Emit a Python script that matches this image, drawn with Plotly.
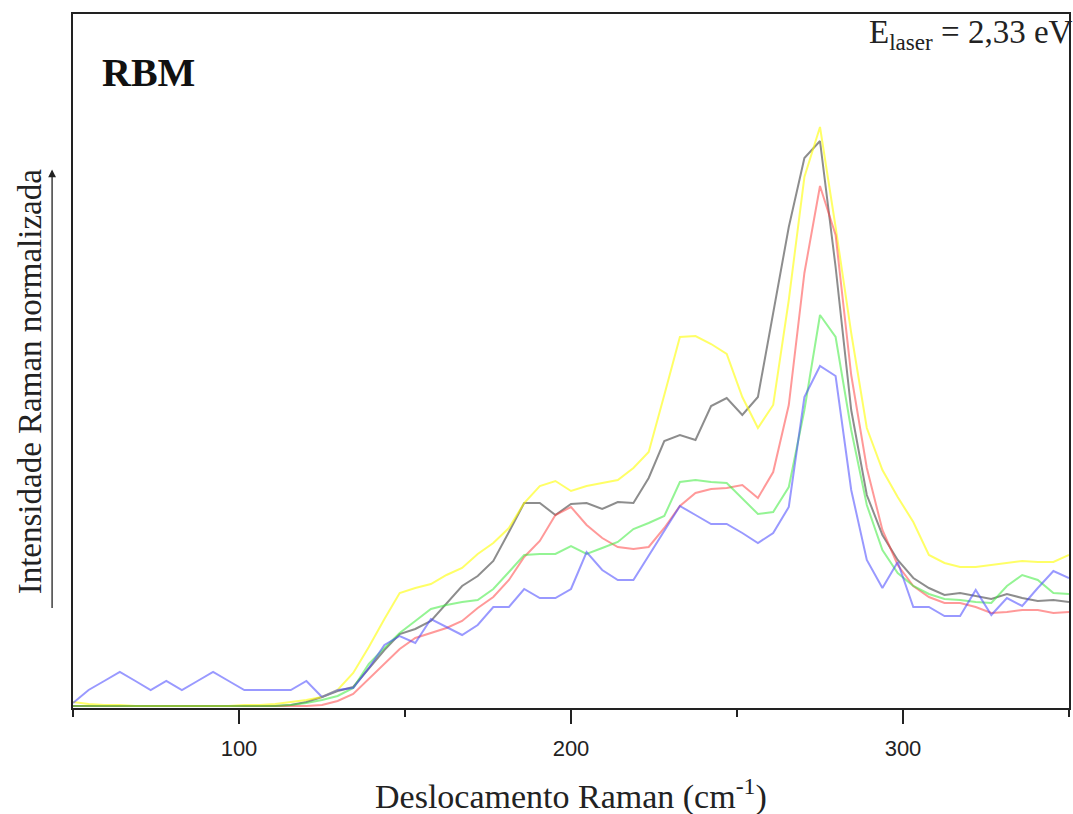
import plotly.graph_objects as go

# Raman shift (cm^-1)
shift = [50.0, 54.7, 59.4, 64.1, 68.8, 73.4, 78.1, 82.8, 87.5, 92.2,
         96.9, 101.6, 106.3, 110.9, 115.6, 120.3, 125.0, 129.7, 134.4, 139.1,
         143.8, 148.4, 153.1, 157.8, 162.5, 167.2, 171.9, 176.6, 181.3, 185.9,
         190.6, 195.3, 200.0, 204.7, 209.4, 214.1, 218.8, 223.4, 228.1, 232.8,
         237.5, 242.2, 246.9, 251.6, 256.3, 260.9, 265.6, 270.3, 275.0, 279.7,
         284.4, 289.1, 293.8, 298.4, 303.1, 307.8, 312.5, 317.2, 321.9, 326.6,
         331.3, 335.9, 340.6, 345.3, 350.0]

# normalized Raman intensity (arbitrary units)
gray = [2, 2, 2, 2, 2, 2, 2, 2, 2, 2,
        2, 2, 2, 2, 3, 6, 11, 17, 21, 40,
        58, 74, 79, 87, 105, 122, 132, 147, 176, 205,
        205, 193, 204, 205, 199, 206, 205, 230, 267, 273,
        268, 302, 310, 293, 311, 396, 481, 550, 567, 441,
        298, 213, 173, 148, 130, 120, 113, 115, 112, 109,
        114, 110, 107, 108, 106]
yellow = [6, 4, 3, 3, 2, 2, 2, 2, 2, 2,
          2, 3, 3, 4, 6, 8, 11, 18, 35, 61,
          89, 115, 120, 124, 133, 140, 154, 165, 180, 205,
          222, 227, 217, 222, 225, 228, 240, 256, 313, 371,
          372, 364, 354, 311, 280, 303, 408, 531, 581, 481,
          375, 280, 238, 211, 186, 153, 145, 141, 141, 143,
          145, 147, 146, 146, 153]
red = [2, 2, 2, 2, 2, 2, 2, 2, 2, 2,
       2, 2, 2, 2, 2, 2, 3, 7, 14, 29,
       44, 59, 70, 75, 80, 87, 100, 111, 128, 151,
       167, 193, 201, 183, 170, 161, 159, 161, 180, 202,
       215, 219, 220, 223, 210, 236, 303, 435, 522, 473,
       333, 240, 178, 143, 122, 111, 105, 105, 101, 95,
       96, 98, 98, 95, 96]
green = [2, 2, 2, 2, 2, 2, 2, 2, 2, 2,
         2, 2, 2, 2, 3, 5, 8, 12, 20, 44,
         60, 75, 87, 99, 103, 106, 108, 119, 136, 153,
         154, 154, 162, 154, 160, 166, 179, 185, 192, 226,
         228, 226, 225, 209, 194, 196, 221, 298, 393, 371,
         278, 203, 158, 135, 122, 114, 109, 108, 106, 105,
         122, 133, 128, 115, 114]
blue = [5, 18, 27, 36, 27, 18, 27, 18, 27, 36,
        27, 18, 18, 18, 18, 27, 11, 18, 20, 40,
        63, 72, 65, 89, 81, 73, 83, 101, 101, 119,
        110, 110, 119, 156, 138, 128, 128, 152, 177, 202,
        193, 184, 184, 175, 165, 175, 201, 311, 342, 332,
        218, 148, 120, 146, 101, 101, 92, 92, 118, 93,
        110, 102, 120, 137, 130]

series = [
    ("gray", gray, "rgba(80,80,80,0.65)"),
    ("yellow", yellow, "rgba(255,255,0,0.6)"),
    ("red", red, "rgba(255,70,70,0.55)"),
    ("green", green, "rgba(60,235,60,0.55)"),
    ("blue", blue, "rgba(70,70,255,0.55)"),
]

fig = go.Figure()
for name, vals, col in series:
    fig.add_trace(go.Scatter(x=shift, y=vals, mode="lines", name=name,
                             line=dict(color=col, width=2), showlegend=False))

serif = "Liberation Serif"
fig.update_layout(
    width=1073, height=814,
    margin=dict(l=73, r=2, t=14, b=106),
    paper_bgcolor="white", plot_bgcolor="white",
    xaxis=dict(range=[50, 350], showgrid=False, zeroline=False,
               showline=True, linecolor="#222", linewidth=2, mirror=True,
               ticks="outside", ticklen=14, tickwidth=2, tickcolor="#222",
               tick0=0, dtick=100, ticklabelstandoff=6,
               minor=dict(ticks="outside", ticklen=7, tickwidth=2,
                          tickcolor="#222", dtick=50, tick0=0),
               tickfont=dict(family="Liberation Sans", size=22, color="#222")),
    yaxis=dict(range=[0, 694], showgrid=False, zeroline=False,
               showline=True, linecolor="#222", linewidth=2, mirror=True,
               showticklabels=False, ticks=""),
    annotations=[
        dict(text="Deslocamento Raman (cm<sup>-1</sup>)", xref="paper", yref="paper",
             x=0.4995, y=-0.124, xanchor="center", yanchor="middle", showarrow=False,
             font=dict(family=serif, size=34, color="#222")),
        dict(text="Intensidade Raman normalizada", xref="paper", yref="paper",
             x=-0.043, y=0.471, xanchor="center", yanchor="middle", textangle=-90,
             showarrow=False, font=dict(family=serif, size=33, color="#222")),
        dict(text="", xref="paper", yref="paper", x=-0.021, y=0.776,
             ax=0, ay=440, axref="pixel", ayref="pixel", showarrow=True,
             arrowhead=2, arrowsize=1.2, arrowwidth=1.3, arrowcolor="#222"),
        dict(text="<b>RBM</b>", xref="paper", yref="paper", x=0.027, y=0.916,
             xanchor="left", yanchor="middle", showarrow=False,
             font=dict(family=serif, size=40, color="#111")),
        dict(text="E<sub>laser</sub> = 2,33 eV", xref="paper", yref="paper",
             x=1.006, y=0.97, xanchor="right", yanchor="middle", showarrow=False,
             font=dict(family=serif, size=33, color="#222")),
    ],
)

fig.write_html("out.html", config={"displayModeBar": False},
               post_script="document.body.style.margin='0';")
